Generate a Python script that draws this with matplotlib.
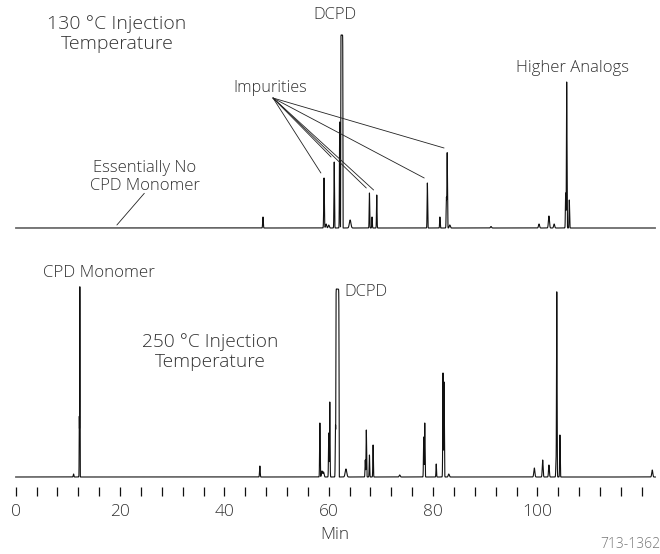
import numpy as np
import matplotlib
matplotlib.use("Agg")
import matplotlib.pyplot as plt

plt.rcParams['font.family'] = ['Open Sans', 'DejaVu Sans']

# ---------------- data (retention time in min, height in a.u., width in min) ----------------
# 130 °C injection trace
top_rt = [47.4, 59.1, 59.5, 60.0, 61.05, 62.1, 62.5, 64.1, 67.8, 68.3, 69.2,
          78.9, 81.3, 82.55, 82.7, 83.2, 91.1, 100.3, 102.2, 103.2, 105.4, 105.6, 106.1]
top_h = [11, 50, 4, 3, 66, 106, 193, 8, 35, 11, 33,
         45, 11, 30, 75, 3, 1.5, 4, 12, 4, 35, 146, 28]
top_w = [0.06, 0.06, 0.1, 0.1, 0.05, 0.05, 0.21, 0.15, 0.05, 0.05, 0.05,
         0.05, 0.05, 0.05, 0.05, 0.1, 0.1, 0.1, 0.1, 0.1, 0.05, 0.05, 0.05]
top_flat = [0, 0, 0, 0, 0, 0, 1, 0, 0, 0, 0,
            0, 0, 0, 0, 0, 0, 0, 0, 0, 0, 0, 0]

# 250 °C injection trace
bot_rt = [11.1, 12.2, 12.3, 46.8, 58.3, 58.7, 59.0, 60.0, 60.2, 61.3, 61.67, 63.3,
          67.0, 67.2, 67.8, 68.5, 73.6, 78.2, 78.4, 80.6, 81.9, 82.1, 83.0,
          99.4, 101.0, 102.2, 103.55, 103.7, 104.3, 122.0]
bot_h = [3, 60, 190, 11, 54, 6, 5, 44, 75, 52, 188, 8,
         17, 47, 22, 32, 2, 40, 54, 13, 104, 95, 3,
         9, 17, 12, 14, 185, 42, 7]
bot_w = [0.06, 0.03, 0.03, 0.06, 0.05, 0.1, 0.1, 0.05, 0.05, 0.05, 0.3, 0.15,
         0.05, 0.05, 0.05, 0.05, 0.1, 0.05, 0.05, 0.05, 0.05, 0.05, 0.1,
         0.1, 0.08, 0.08, 0.05, 0.05, 0.05, 0.1]
bot_flat = [0, 0, 0, 0, 0, 0, 0, 0, 0, 0, 1, 0,
            0, 0, 0, 0, 0, 0, 0, 0, 0, 0, 0,
            0, 0, 0, 0, 0, 0, 0]

impurity_rt = [59.1, 61.05, 67.8, 69.2, 78.9, 82.7]
tick_minutes = list(range(0, 121, 4))
tick_labeled = [0, 20, 40, 60, 80, 100]

t = np.arange(0, 122.6, 0.004)


def trace(rt, h, w, flat):
    y = np.zeros_like(t)
    for c, a, s, f in zip(rt, h, w, flat):
        p = 16 if f else 2
        y += a * np.exp(-0.5 * np.abs((t - c) / s) ** p)
    return y


y_top = trace(top_rt, top_h, top_w, top_flat)
y_bot = trace(bot_rt, bot_h, bot_w, bot_flat)

W, H = 660, 554
fig = plt.figure(figsize=(W / 100, H / 100), dpi=100)


def frac_rect(x0, y0, x1, y1):
    return [x0 / W, 1 - y1 / H, (x1 - x0) / W, (y1 - y0) / H]


xl = (-0.7, 123.1)
ax1 = fig.add_axes(frac_rect(12, 20, 658, 240))
ax2 = fig.add_axes(frac_rect(12, 260, 658, 487))

lc = '#111111'
ax1.plot(t, y_top, color=lc, lw=0.8)
ax2.plot(t, y_bot, color=lc, lw=0.8)
ax1.set_xlim(*xl)
ax2.set_xlim(*xl)
ax1.set_ylim(-12, 208)
ax2.set_ylim(-10, 217)

for ax in (ax1, ax2):
    for s in ax.spines.values():
        s.set_visible(False)
    ax.set_yticks([])
ax1.set_xticks([])

tc = '#333333'
FW = 'light'

ax2.set_xticks(tick_minutes)
ax2.set_xticklabels([str(m) if m in tick_labeled else '' for m in tick_minutes],
                    fontweight=FW)
ax2.tick_params(axis='x', direction='out', length=6.5, width=0.9, color='#111111',
                pad=6, labelsize=12.5, labelcolor=tc)
ax2.set_xlabel('Min', fontsize=12.5, color=tc, labelpad=5, fontweight=FW)


def ftext(x, y, s, size=11.5, ha='center', color=tc, **kw):
    fig.text(x / W, 1 - y / H, s, fontsize=size, ha=ha, va='center', color=color,
             fontweight=FW, **kw)


# Top panel labels
ftext(117, 34, '130 °C Injection\nTemperature', size=14, linespacing=1.15)
ftext(335, 15, 'DCPD', size=12)
ftext(573, 68, 'Higher Analogs', size=12)
ftext(270, 88, 'Impurities', size=11.7)
ftext(145, 177, 'Essentially No\nCPD Monomer', size=12, linespacing=1.1)

# Impurity leader lines
for rt in impurity_rt:
    h = top_h[top_rt.index(rt)]
    ax1.annotate('', xy=(rt - 0.6, h + 5), xycoords='data',
                 xytext=(273, H - 98), textcoords='figure pixels',
                 arrowprops=dict(arrowstyle='-', lw=0.6, color='#222222',
                                 shrinkA=0, shrinkB=0))

# "Essentially No CPD Monomer" leader
ax1.annotate('', xy=(19.4, 3), xycoords='data',
             xytext=(144.3, H - 193.3), textcoords='figure pixels',
             arrowprops=dict(arrowstyle='-', lw=0.6, color='#222222',
                             shrinkA=0, shrinkB=0))

# Bottom panel labels
ftext(43, 273, 'CPD Monomer', size=12.2, ha='left')
ftext(344, 292, 'DCPD', size=12, ha='left')
ftext(210, 352, '250 °C Injection\nTemperature', size=13.8, linespacing=1.1)

ftext(660, 545, '713-1362', size=10, ha='right', color='#777777')

fig.savefig('out.png', dpi=100)
